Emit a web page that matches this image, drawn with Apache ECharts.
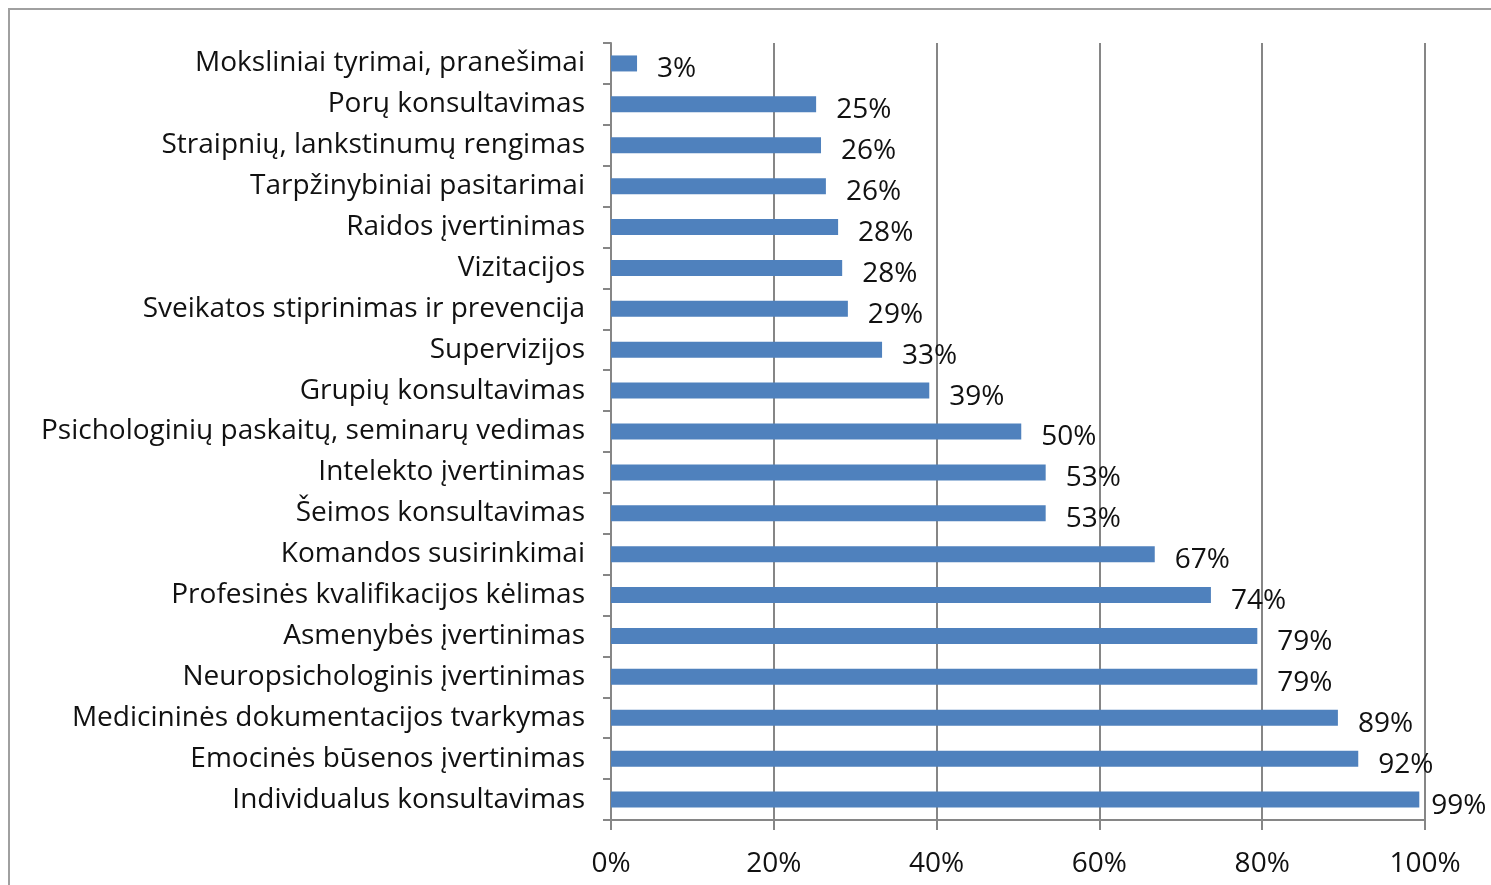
<!DOCTYPE html>
<html>
<head>
<meta charset="utf-8">
<script src="https://cdn.jsdelivr.net/npm/echarts@6/dist/echarts.min.js"></script>
<style>
  html, body { margin: 0; padding: 0; background: #fff; overflow: hidden; }
  #frame { position: absolute; left: 8px; top: 8px; width: 1500px; height: 900px;
           border-left: 2px solid #a0a0a0; border-top: 2px solid #a0a0a0; }
  #chart { position: absolute; left: 0; top: 0; width: 1491px; height: 885px; }
</style>
</head>
<body>
<div id="frame"></div>
<div id="chart"></div>
<script>
// veiklos sritys, nuo viršaus į apačią
const categories = [
  'Moksliniai tyrimai, pranešimai',
  'Porų konsultavimas',
  'Straipnių, lankstinumų rengimas',
  'Tarpžinybiniai pasitarimai',
  'Raidos įvertinimas',
  'Vizitacijos',
  'Sveikatos stiprinimas ir prevencija',
  'Supervizijos',
  'Grupių konsultavimas',
  'Psichologinių paskaitų, seminarų vedimas',
  'Intelekto įvertinimas',
  'Šeimos konsultavimas',
  'Komandos susirinkimai',
  'Profesinės kvalifikacijos kėlimas',
  'Asmenybės įvertinimas',
  'Neuropsichologinis įvertinimas',
  'Medicininės dokumentacijos tvarkymas',
  'Emocinės būsenos įvertinimas',
  'Individualus konsultavimas'
];
const values = [3.2, 25.2, 25.8, 26.4, 27.9, 28.4, 29.1, 33.3, 39.1, 50.4,
                53.4, 53.4, 66.8, 73.7, 79.4, 79.4, 89.3, 91.8, 99.3];
const xTicks = [0, 20, 40, 60, 80, 100];

const font = '"Open Sans", "DejaVu Sans", sans-serif';
// paskutinė etiketė prie pat krašto - mažesnis tarpas
const barData = values.map(v => v > 95 ? { value: v, label: { distance: 12 } } : v);

const chart = echarts.init(document.getElementById('chart'));
chart.setOption({
  animation: false,
  grid: { left: 611, right: 66, top: 43, bottom: 65, containLabel: false },
  xAxis: {
    type: 'value',
    min: 0, max: 100, interval: 20,
    axisLine: { show: true, lineStyle: { color: '#868686', width: 2 } },
    axisTick: { show: true, length: 10, lineStyle: { color: '#868686', width: 2 } },
    axisLabel: {
      margin: 30, color: '#111', fontSize: 28, fontFamily: font,
      formatter: v => xTicks.includes(v) ? v + '%' : ''
    },
    splitLine: { show: true, lineStyle: { color: '#868686', width: 2 } }
  },
  yAxis: {
    type: 'category',
    inverse: true,
    data: categories,
    axisLine: { show: true, lineStyle: { color: '#868686', width: 2 } },
    axisTick: { show: true, length: 8, inside: false, lineStyle: { color: '#868686', width: 2 } },
    axisLabel: { margin: 26, color: '#111', fontSize: 28, fontFamily: font, padding: [5, 0, 0, 0] }
  },
  series: [{
    type: 'bar',
    data: barData,
    barWidth: 16,
    itemStyle: { color: '#4f81bd' },
    label: {
      show: true, position: 'right', distance: 20, offset: [0, 6],
      color: '#111', fontSize: 28, fontFamily: font,
      formatter: p => Math.round(p.value) + '%'
    }
  }]
});
</script>
</body>
</html>
